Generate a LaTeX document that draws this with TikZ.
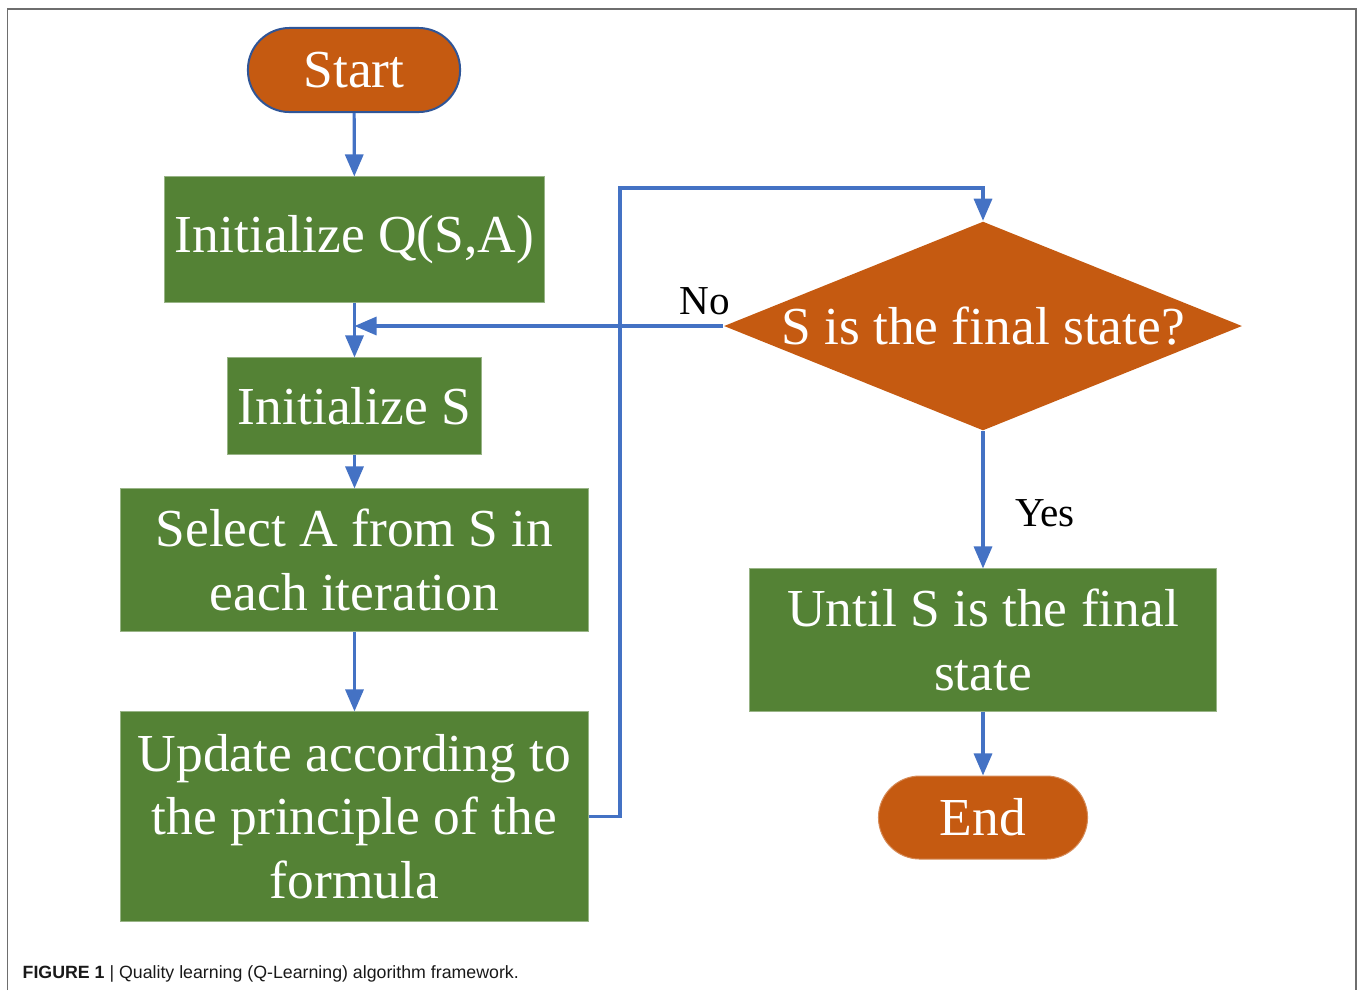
\documentclass[tikz,border=0pt]{standalone}
\usepackage{fontspec}
\setmainfont{Liberation Serif}
\newfontfamily\capfont{Liberation Sans}
\usetikzlibrary{shapes.geometric,arrows.meta}
\definecolor{qorange}{HTML}{C55A11}
\definecolor{qgreen}{HTML}{548235}
\definecolor{qblue}{HTML}{4472C4}
\definecolor{qdkblue}{HTML}{2F5597}
\definecolor{qframe}{HTML}{6E6E6E}
\tikzset{
  bigtxt/.style={font=\fontsize{15.2}{18.1}\selectfont, text=white, align=center},
  greenbox/.style={rectangle, fill=qgreen, draw=qgreen!60!white, line width=0.01cm, inner sep=0pt, bigtxt},
  termbox/.style={rectangle, rounded corners=0.415cm, fill=qorange, inner sep=0pt, bigtxt},
  decision/.style={diamond, fill=qorange, inner sep=0pt, minimum width=5.18cm, minimum height=2.09cm},
  flow/.style={draw=qblue, line width=0.032cm, -{Triangle[length=0.22cm,width=0.18cm]}},
  lbl/.style={font=\fontsize{11.7}{14}\selectfont, text=black},
}
\begin{document}
\begin{tikzpicture}[x=0.01cm,y=-0.01cm]
\useasboundingbox (0,0) rectangle (1358,990);
\draw[qframe, line width=0.015cm] (7.5,990) -- (7.5,9) -- (1356,9) -- (1356,990);

\node[termbox, draw=qdkblue, line width=0.02cm, minimum width=2.12cm, minimum height=0.84cm] (start) at (354,70) {Start};
\node[greenbox, minimum width=3.79cm, minimum height=1.25cm] (initq) at (354.5,239.5) {Initialize Q(S,A)};
\node[greenbox, minimum width=2.53cm, minimum height=0.96cm] (inits) at (354.5,406) {Initialize S};
\node[greenbox, minimum width=4.67cm, minimum height=1.42cm] (select) at (354.5,560) {Select A from S in\\each iteration};
\node[greenbox, minimum width=4.67cm, minimum height=2.09cm] (update) at (354.5,816.5) {Update according to\\the principle of the\\formula};
\node[decision] (dec) at (983,326) {};
\node[bigtxt, inner sep=0pt] (dectxt) at (983,326) {S is the final state?};
\node[greenbox, minimum width=4.67cm, minimum height=1.42cm] (until) at (983,640) {Until S is the final\\state};
\node[termbox, draw=qorange!70!white, line width=0.01cm, minimum width=2.09cm, minimum height=0.83cm] (end) at (983,817.5) {End};

\coordinate (loopc) at (620,188);

\draw[flow] (start) -- (initq);
\draw[flow] (initq) -- (inits);
\draw[flow] (inits) -- (select);
\draw[flow] (select) -- (update);
\draw[flow] (update.east) -| (loopc) -| (dec.north);
\draw[flow] (dec.west) -- (initq.south |- dec.west);
\draw[flow] (dec.south) -- (until.north);
\draw[flow] (until) -- (end);

\node[lbl] (nolbl) at (705,301) {No};
\node[lbl] (yeslbl) at (1045,513) {Yes};

\node[anchor=base west, inner sep=0pt, font=\capfont\fontsize{5.05}{6}\selectfont, text=black!90] (cap) at (22,978) {\textbf{FIGURE 1} | Quality learning (Q-Learning) algorithm framework.};
\end{tikzpicture}
\end{document}
